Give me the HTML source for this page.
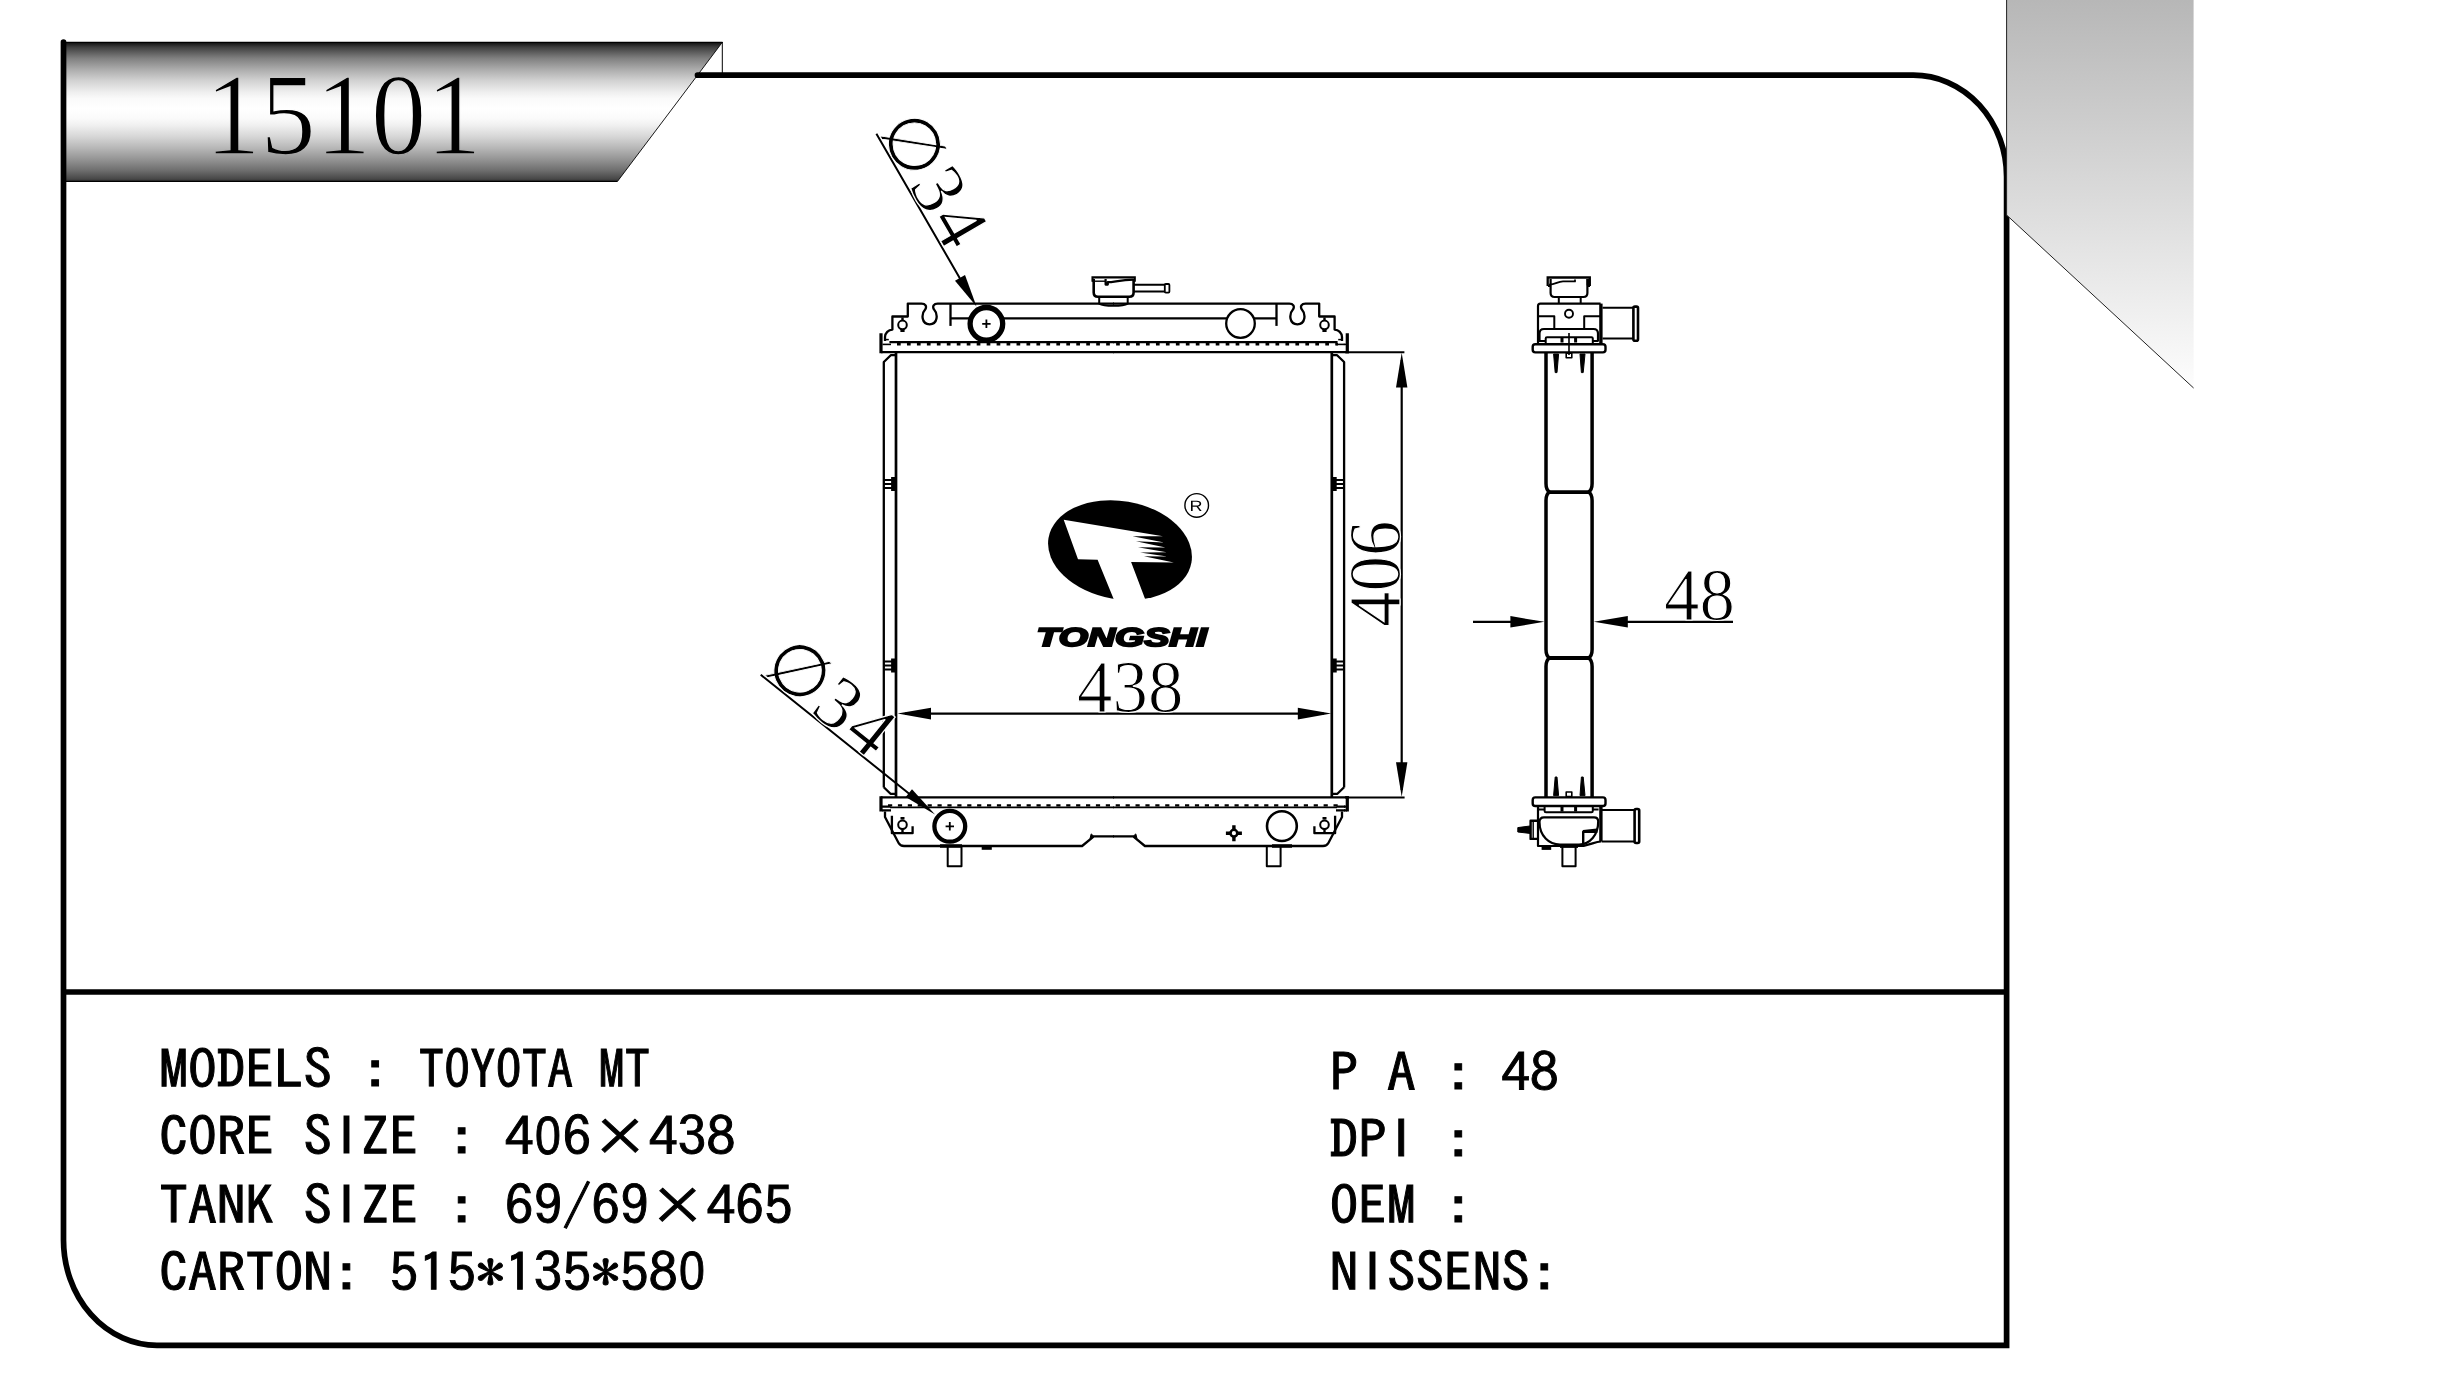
<!DOCTYPE html>
<html lang="en"><head><meta charset="utf-8"><title>15101 TOYOTA MT radiator</title>
<style>html,body{margin:0;padding:0;background:#fff;overflow:hidden}svg{display:block}</style></head>
<body>
<svg width="2447" height="1380" viewBox="0 0 2447 1380">
<rect width="2447" height="1380" fill="#fff"/>
<defs>
<linearGradient id="gb" x1="0" y1="0" x2="0" y2="1">
<stop offset="0" stop-color="#0c0c0c"/>
<stop offset="0.037" stop-color="#3e3e3e"/>
<stop offset="0.077" stop-color="#606060"/>
<stop offset="0.117" stop-color="#808080"/>
<stop offset="0.197" stop-color="#acacac"/>
<stop offset="0.277" stop-color="#d2d2d2"/>
<stop offset="0.357" stop-color="#eeeeee"/>
<stop offset="0.405" stop-color="#fafafa"/>
<stop offset="0.477" stop-color="#ffffff"/>
<stop offset="0.549" stop-color="#fafafa"/>
<stop offset="0.597" stop-color="#f0f0f0"/>
<stop offset="0.677" stop-color="#d7d7d7"/>
<stop offset="0.757" stop-color="#b8b8b8"/>
<stop offset="0.837" stop-color="#969696"/>
<stop offset="0.917" stop-color="#707070"/>
<stop offset="0.981" stop-color="#484848"/>
<stop offset="1" stop-color="#303030"/>
</linearGradient>
<linearGradient id="gbt" href="#gb" gradientUnits="userSpaceOnUse" x1="0" y1="-111.9" x2="0" y2="27.6"/>
<linearGradient id="gg" x1="0" y1="0" x2="0" y2="1">
<stop offset="0" stop-color="#b7b7b7"/>
<stop offset="1" stop-color="#fdfdfd"/>
</linearGradient>
</defs>
<polygon points="64,42 722.5,42 617.4,181.5 64,181.5" fill="url(#gb)"/>
<path d="M64,181.3 H617.4" fill="none" stroke="#000" stroke-width="1.3"/><path d="M617.4,181.5 L722.5,42" fill="none" stroke="#000" stroke-width="0.9"/>
<path d="M64,42.3 H722.5" fill="none" stroke="#000" stroke-width="1.2"/>
<path d="M722.3,42 V74" fill="none" stroke="#000" stroke-width="1"/>
<g fill="none" stroke="#000" stroke-width="5.7">
<path d="M697.5,75.2 H1913.3 A93.3,101.5 0 0 1 2006.6,176.7 V1345.3 H157 A93.5,105.3 0 0 1 63.5,1240 V42" stroke-linecap="round"/>
<path d="M63.5,992 H2006.6"/>
</g>
<polygon points="2006.5,0 2193.6,0 2193.6,388 2006.5,215" fill="url(#gg)"/>
<path d="M2006.6,0 V215 L2193.6,388" fill="none" stroke="#222" stroke-width="1"/>
<path d="M2193.4,0 V388" fill="none" stroke="url(#gg)" stroke-width="1" opacity="0.9"/>
<g fill="none" stroke="#000" stroke-width="2.3" stroke-linejoin="round">
<g id="fh"><path d="M885,341 V337 A7.6,7.6 0 0 1 892.4,329.6 V316.5 H907.8 V303.6 H921.5 C925.5,303.6 927,306.5 925.3,309.3 C921,314 921.3,324.3 929.6,324.3 C937.9,324.3 938.2,314 933.9,309.3 C932.2,306.5 933.7,303.6 937.7,303.6 H1114"/>
<path d="M950.5,303.6 V325.9"/>
<circle cx="902.5" cy="324.9" r="4.3" stroke-width="2"/>
<path d="M902.5,317.6 V320.6 M900.4,330.8 H904.6" stroke-width="2.4"/>
<path d="M884.7,339.6 H888.8" stroke-width="1.5"/>
<path d="M889.4,342.2 H1114" stroke-width="2.3"/>
<path d="M882.5,344.4 H891" stroke-width="1.6"/>
<path d="M880.9,352.1 H1114" stroke-width="2.2"/>
<path d="M880.9,797.4 H1114" stroke-width="2.3"/>
<path d="M890,807.4 H1114" stroke-width="1.8"/>
<path d="M882,806.6 H890.5 M882,810.4 H891"/>
<path d="M885,811.4 V817 L898.6,843 Q900.2,846 904,846 H1082.1 L1093.8,836.3 H1114"/>
<path d="M1093.8,836.3 l-2.6,-2.4 l-1.2,4.6 z" fill="#000" stroke-width="1"/>
<path d="M891.9,815.7 V833.2 H912.6 V826.3"/>
<circle cx="902.5" cy="824.7" r="4.3" stroke-width="2"/>
<path d="M900.5,818.3 H904.5" stroke-width="2.6"/><path d="M902.5,829 V832.5" stroke-width="2.4"/></g>
<use href="#fh" transform="translate(2227.0,0) scale(-1,1)"/>
<path d="M883.8,787.4 V362 L890.8,355.2 H896" stroke-width="2.3"/>
<path d="M883.8,787.2 L890.5,793.8 H896" stroke-width="2.3"/>
<path d="M896,352 V797.4" stroke-width="2.7"/>
<path d="M883.8,480 H892.0 M883.8,484 H892.0 M883.8,488 H892.0" stroke-width="2"/>
<rect x="891.1" y="477" width="5.5" height="14" fill="#000" stroke="none"/>
<path d="M883.8,661.5 H892.0 M883.8,665.5 H892.0 M883.8,669.5 H892.0" stroke-width="2"/>
<rect x="891.1" y="658.5" width="5.5" height="14" fill="#000" stroke="none"/>
<path d="M1344.1,787.4 V362 L1337.1,355.2 H1331.8" stroke-width="2.3"/>
<path d="M1344.1,787.2 L1337.3999999999999,793.8 H1331.8" stroke-width="2.3"/>
<path d="M1331.8,352 V797.4" stroke-width="2.7"/>
<path d="M1344.1,480 H1335.8999999999999 M1344.1,484 H1335.8999999999999 M1344.1,488 H1335.8999999999999" stroke-width="2"/>
<rect x="1331.2" y="477" width="5.5" height="14" fill="#000" stroke="none"/>
<path d="M1344.1,661.5 H1335.8999999999999 M1344.1,665.5 H1335.8999999999999 M1344.1,669.5 H1335.8999999999999" stroke-width="2"/>
<rect x="1331.2" y="658.5" width="5.5" height="14" fill="#000" stroke="none"/>
<path d="M881,333.3 V353.2 M1347.3,333.3 V353.2 M881,796.2 V811.6 M1347.3,796.2 V811.6" stroke-width="3.2"/>
<path d="M1345,352.1 H1348.9 M1345,797.4 H1348.9 M1344,806.6 H1347 M1344,810.4 H1347" stroke-width="2.3"/>
<path d="M1343.8,344.4 H1346.5" stroke-width="1.6"/>
<path d="M897,344.3 H1338" stroke-width="2.4" stroke-dasharray="3.7 6.26"/>
<path d="M888,805.4 H1342" stroke-width="2.4" stroke-dasharray="4.2 5.7"/>
<path d="M950.5,318.3 H1276.7"/>
<circle cx="986.4" cy="323.8" r="16.3" stroke-width="5.3" fill="#fff"/>
<path d="M982.2,323.8 H990.6 M986.4,319.6 V328" stroke-width="1.8"/>
<circle cx="1240.5" cy="323.5" r="14.3" fill="#fff"/>
<circle cx="949.8" cy="826.3" r="15.4" stroke-width="4.3" fill="#fff"/>
<path d="M945.6,826.3 H954 M949.8,822.1 V830.5" stroke-width="1.8"/>
<circle cx="1281.9" cy="826.1" r="14.9" stroke-width="2.6" fill="#fff"/>
<path d="M947.7,846 V866.2 H961.5 V846 M1266.8,846 V866.2 H1280.6 V846" stroke-width="2"/>
<path d="M940,846 H962 M1272,846 H1292" stroke-width="3.4"/>
<path d="M981.7,848.3 H991.8" stroke-width="3"/>
<circle cx="1233.9" cy="833.2" r="3.4" stroke-width="2.6"/>
<path d="M1225.9,833.2 H1230.5 M1237.3,833.2 H1241.9 M1233.9,825.2 V829.8 M1233.9,836.6 V841.2" stroke-width="3.4"/>
<path d="M1099.2,296.8 V303.6 C1104,306.6 1123,306.6 1127.7,303.6 V296.8" stroke-width="2"/>
<path d="M1093.7,279 V292.5 Q1093.7,296.8 1098,296.8 H1129.3 Q1133.6,296.8 1133.6,292.5 V279" stroke-width="2.6"/>
<path d="M1092.5,281.8 V277.4 H1134.8 V281.8" stroke-width="2.1" stroke-linejoin="miter"/>
<path d="M1092.5,281.2 H1105.6" stroke-width="1.4"/>
<path d="M1105.6,279 V284.6 H1107.8 V282.2 C1114,282.2 1120,279.8 1133.6,279.6" stroke-width="2.2"/>
<path d="M1133.6,284.8 H1165 M1133.6,291.6 H1165" stroke-width="2"/>
<rect x="1164.8" y="284" width="4.6" height="8.6" rx="1" stroke-width="1.8"/>
</g>
<g fill="none" stroke="#000" stroke-width="2" stroke-linejoin="round">
<path d="M1546,352 V483.6 C1546,488.1 1547,490.6 1549.6,492.1" stroke-width="3.5"/>
<path d="M1592.1,352 V483.6 C1592.1,488.1 1591.1,490.6 1588.5,492.1" stroke-width="3.5"/>
<path d="M1549.6,492.1 C1547,493.6 1546,496.1 1546,500.6 V649.5 C1546,654.0 1547,656.5 1549.6,658.0" stroke-width="3.5"/>
<path d="M1588.5,492.1 C1591.1,493.6 1592.1,496.1 1592.1,500.6 V649.5 C1592.1,654.0 1591.1,656.5 1588.5,658.0" stroke-width="3.5"/>
<path d="M1549.6,658.0 C1547,659.5 1546,662.0 1546,666.5 V797.4" stroke-width="3.5"/>
<path d="M1588.5,658.0 C1591.1,659.5 1592.1,662.0 1592.1,666.5 V797.4" stroke-width="3.5"/>
<path d="M1548.5,492.1 H1589.6 M1548.5,658 H1589.6" stroke-width="3.8"/>
<path d="M1547.7,285.9 V277.5 H1589.8 V285.9" stroke-width="2.3" stroke-linejoin="miter"/>
<path d="M1588.2,279 V285.4" stroke-width="3.2"/>
<path d="M1550.6,279 V293 Q1550.6,297 1554.6,297 H1583.4 Q1587.4,297 1587.4,293 V279" stroke-width="2.2"/>
<path d="M1548,285.9 H1550.6 M1587.4,285.9 H1590"/>
<path d="M1549,284.6 C1556,284.6 1557,281.6 1563,281.4 H1575 V279.4" stroke-width="1.8"/>
<path d="M1558.8,297 V303.6 M1580.7,297 V303.6"/>
<path d="M1538,344.2 V306 Q1538,303.6 1540.4,303.6 H1600.6" stroke-width="2.2"/>
<path d="M1600.9,303.6 V344.2" stroke-width="3.4"/>
<path d="M1538,316.3 H1554.3 V328.6 M1600,316.3 H1584.2 V328.6"/>
<path d="M1539.5,341 V333.5 Q1539.5,329 1544,329 H1593.5 Q1598,329 1598,333.5 V341" stroke-width="2.2"/>
<circle cx="1569" cy="313.8" r="4" stroke-width="1.9"/>
<path d="M1539,341 H1545.7 M1598.6,341 H1592.8 M1545.7,344.2 V338.4 Q1545.7,337.3 1547,337.3 H1591.5 Q1592.8,337.3 1592.8,338.4 V344.2" stroke-width="2"/>
<path d="M1562,338 V342.5 M1575.6,338 V342.5" stroke-width="3"/>
<rect x="1532.7" y="344.2" width="72.8" height="8.2" rx="2.6" stroke-width="2.4"/>
<path d="M1569,333 V355" stroke-width="1.6"/>
<rect x="1566.2" y="353.2" width="5.6" height="4.6" stroke-width="1.6"/>
<path d="M1553.6,354 L1558.6,354 L1557,372.6 L1555.2,372.6 Z M1580,354 L1585,354 L1583.2,372.6 L1581.4,372.6 Z" fill="#000" stroke-width="1"/>
<path d="M1602.5,307.7 H1633 M1602.5,338.6 H1633"/>
<rect x="1633.4" y="306.6" width="4.6" height="34.2" rx="1.5" stroke-width="2.6"/>
<path d="M1553.6,795.6 L1558.6,795.6 L1557,777 L1555.2,777 Z M1580,795.6 L1585,795.6 L1583.2,777 L1581.4,777 Z" fill="#000" stroke-width="1"/>
<rect x="1566.2" y="792" width="5.6" height="4.6" stroke-width="1.6"/>
<rect x="1532.7" y="797.4" width="72.8" height="8.6" rx="2.6" stroke-width="2.4"/>
<path d="M1539,809.6 H1544.6 M1598.6,809.6 H1592.8 M1544.6,806 V811 Q1544.6,812.2 1546,812.2 H1591.4 Q1592.8,812.2 1592.8,811 V806" stroke-width="2"/>
<path d="M1562,807 V811.4 M1575.6,807 V811.4" stroke-width="3"/>
<path d="M1538,806 V846 H1579 C1590,846 1594,841.5 1601,841.5" stroke-width="2.2"/>
<path d="M1600.9,806 V841.5" stroke-width="3.4"/>
<path d="M1539.5,822 Q1539.5,817.3 1544,817.3 H1594 Q1598.2,817.3 1598.2,821.5 C1598.2,835 1590,844.5 1579,844.5 H1560 C1549,844.5 1539.5,836 1539.5,822 Z" stroke-width="2.2"/>
<path d="M1597.4,831.8 H1583.2 V844.5" stroke-width="2.4"/>
<path d="M1583,831 L1597,829.6" stroke-width="2.2"/>
<path d="M1601.5,810 H1634 M1601.5,841.5 H1634"/>
<rect x="1634.6" y="809" width="4.6" height="34" rx="1.5" stroke-width="2.6"/>
<path d="M1562.4,846 V866.3 H1575.6 V846" stroke-width="2"/>
<path d="M1560,846.4 H1578" stroke-width="3"/>
<path d="M1541.6,848.4 H1551.2" stroke-width="3"/>
<path d="M1537,820.7 H1530.6 V838.9 H1537" stroke-width="2.4"/>
<path d="M1533.2,822 V838" stroke-width="1.4"/>
<path d="M1517.8,827.6 L1530,826 V833.4 L1517.8,832 Z" fill="#000" stroke-width="1"/>
</g>
<g stroke="#000" fill="none" stroke-width="2">
<path d="M1346,352.2 H1404.4 M1346,797.6 H1404.6"/>
<path d="M1401.7,360 V790" stroke-width="2.2"/>
<path d="M905,713.6 H1324" stroke-width="2.2"/>
<path d="M1473,621.8 H1535 M1604,621.8 H1733" stroke-width="2.2"/>
<path d="M876.4,133.8 L962,282 M760.7,674.7 L912,796" stroke-width="2"/>
</g>
<polygon points="1401.7,352.8 1407.4,387.4 1396.0,387.4" fill="#000"/>
<polygon points="1401.7,796.8 1396.0,762.2 1407.4,762.2" fill="#000"/>
<polygon points="897.6,713.6 931.0,707.7 931.0,719.5" fill="#000"/>
<polygon points="1331.2,713.6 1297.8,719.5 1297.8,707.7" fill="#000"/>
<polygon points="1544.4,621.8 1510.4,627.5 1510.4,616.1" fill="#000"/>
<polygon points="1593.8,621.8 1627.8,616.1 1627.8,627.5" fill="#000"/>
<polygon points="976.5,306.4 955.0,280.7 965.0,274.9" fill="#000"/>
<polygon points="935.0,814.6 905.7,797.1 912.0,789.3" fill="#000"/>
<ellipse cx="1120" cy="550.1" rx="72.5" ry="49.1" transform="rotate(9.8 1120 550.1)" fill="#000"/>
<polygon points="1063.7,519.8 1163,536.3 1132.5,536.3 1164.2,542.5 1135.9,541.3 1165.6,547.5 1137.9,547.3 1166.6,552.3 1140.1,552.5 1167.2,556.5 1143.9,556.3 1173.8,562.6 1131.1,562 1146.6,603 1115.3,603 1097.6,559.8 1078,559.3" fill="#fff"/>
<circle cx="1196.7" cy="505.4" r="11.8" fill="none" stroke="#000" stroke-width="1.4"/>
<g font-family="'Liberation Serif','Noto Serif CJK SC',serif" fill="#000">
<text transform="translate(205.3,153.9) scale(0.9545,1)" font-size="115.7" stroke="url(#gbt)" stroke-width="1.6">15101</text>
<g font-size="73.8" stroke="#fff" stroke-width="1.2">
<text transform="translate(1077.1,711.5) scale(0.96,1)">438</text>
<text transform="translate(1399.9,626.9) rotate(-90) scale(0.96,1)">406</text>
<text transform="translate(1664,619.8) scale(0.96,1)">48</text>
</g>
<g transform="translate(876.4,133.8) rotate(59.9)" stroke="#fff"><text font-family="'DejaVu Sans','Liberation Sans',sans-serif" font-size="72.3" x="-3.4" y="-2.3" stroke-width="0.9">∅</text><text font-size="75.5" x="60.5 101.5" y="-1.6" stroke-width="1.2">34</text></g>
<g transform="translate(760.7,674.7) rotate(38.8)" stroke="#fff"><text font-family="'DejaVu Sans','Liberation Sans',sans-serif" font-size="72.3" x="-3.4" y="-2.3" stroke-width="0.9">∅</text><text font-size="75.5" x="60.5 101.5" y="-1.6" stroke-width="1.2">34</text></g>
</g>
<g font-family="IPAGothic,'WenQuanYi Zen Hei','Noto Sans CJK SC','Liberation Mono',monospace" font-size="53" fill="#000" stroke="#000" stroke-width="0.9" xml:space="preserve">
<text transform="translate(159.20,1089.25) scale(1.0868,1)" textLength="212">MODELS :</text> <text transform="translate(418.6,1089.25) scale(0.9713,1)" textLength="238.5">TOYOTA MT</text>
<text transform="translate(159.20,1156.05) scale(1.0868,1)" textLength="159">CORE S</text><text font-family="'Liberation Sans',sans-serif" font-size="53.9" text-anchor="middle" transform="translate(346.40,1153.35)">I</text><text transform="translate(360.80,1156.05) scale(1.0868,1)" textLength="159">ZE : 4</text><text font-family="'Liberation Sans',sans-serif" font-size="53.4" text-anchor="middle" transform="translate(548.00,1153.90) scale(0.87,1)">0</text><text transform="translate(562.40,1156.05) scale(1.0868,1)" textLength="159">6×438</text>
<text transform="translate(159.20,1224.75) scale(1.0868,1)" textLength="159">TANK S</text><text font-family="'Liberation Sans',sans-serif" font-size="53.9" text-anchor="middle" transform="translate(346.40,1222.05)">I</text><text transform="translate(360.80,1224.75) scale(1.0868,1)" textLength="397.5">ZE : 69/69×465</text>
<text transform="translate(159.20,1291.55) scale(1.0868,1)" textLength="477">CARTON: 515*135*58</text><text font-family="'Liberation Sans',sans-serif" font-size="53.4" text-anchor="middle" transform="translate(692.00,1289.40) scale(0.87,1)">0</text>
<text transform="translate(1329.70,1092.05) scale(1.0792,1)" textLength="212">P A : 48</text>
<text transform="translate(1329.70,1158.55) scale(1.0792,1)" textLength="53">DP</text><text font-family="'Liberation Sans',sans-serif" font-size="53.9" text-anchor="middle" transform="translate(1401.20,1155.85)">I</text> <text transform="translate(1444.10,1158.55) scale(1.0792,1)">:</text>
<text transform="translate(1329.70,1225.15) scale(1.0792,1)" textLength="132.5">OEM :</text>
<text transform="translate(1329.70,1291.65) scale(1.0792,1)">N</text><text font-family="'Liberation Sans',sans-serif" font-size="53.9" text-anchor="middle" transform="translate(1372.60,1288.95)">I</text><text transform="translate(1386.90,1291.65) scale(1.0792,1)" textLength="159">SSENS:</text>
</g>
<g opacity="0.999">
<text text-rendering="geometricPrecision" font-family="'Liberation Sans',sans-serif" font-weight="bold" font-style="italic" font-size="25.8" stroke="#000" stroke-width="2" stroke-linejoin="miter" transform="translate(1036.4,646) scale(1.457,1)">TONGSHI</text>
<text text-rendering="geometricPrecision" font-family="'Liberation Sans',sans-serif" font-size="15" transform="translate(1189.4,511.3) scale(1.2,1)">R</text>
</g>
</svg>
</body></html>
